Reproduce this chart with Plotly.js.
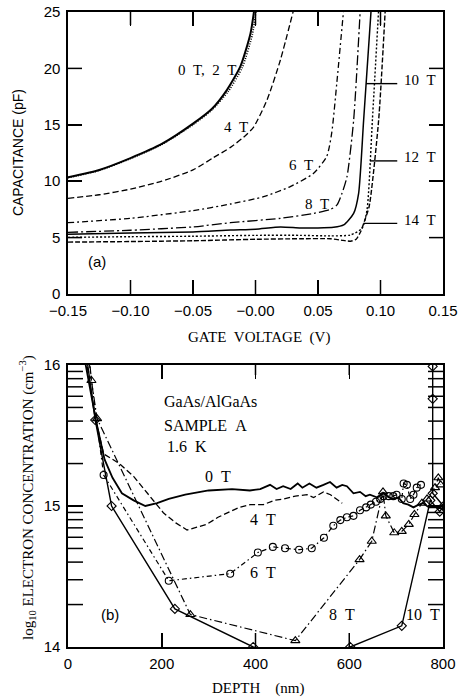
<!DOCTYPE html>
<html>
<head>
<meta charset="utf-8">
<script src="https://cdn.plot.ly/plotly-3.0.1.min.js"></script>
<style>html,body{margin:0;padding:0;background:#fff;}</style>
</head>
<body>
<div id="chart" style="width:458px;height:700px;"></div>
<script>
// ---------- Panel (a): capacitance vs gate voltage ----------
const v0T  = [-0.15, -0.125, -0.10, -0.075, -0.05, -0.035, -0.0228, -0.012, -0.004, -0.001];
const c0T  = [10.35, 11.0, 12.05, 13.3, 15.1, 16.4, 18.1, 20.2, 23.1, 25.2];
const v2T  = [-0.15, -0.125, -0.10, -0.075, -0.05, -0.035, -0.0215, -0.0105, -0.0025, 0.0005];
const c2T  = [10.3, 10.95, 12.0, 13.25, 15.0, 16.3, 18.0, 20.1, 23.0, 25.2];
const v4T  = [-0.15, -0.125, -0.10, -0.075, -0.05, -0.0335, -0.02, -0.0095, -0.0015, 0.0092, 0.0198, 0.0305];
const c4T  = [8.48, 8.8, 9.3, 10.0, 11.0, 12.1, 13.0, 13.9, 14.8, 17.2, 20.7, 25.2];
const v6T  = [-0.15, -0.10, -0.05, -0.02, 0.0065, 0.0278, 0.0465, 0.057, 0.061, 0.065, 0.0705];
const c6T  = [6.32, 6.71, 7.39, 7.98, 8.63, 9.52, 10.7, 12.2, 14.3, 18.65, 25.2];
const v8T  = [-0.15, -0.10, -0.05, -0.02, 0.02, 0.0465, 0.06, 0.0652, 0.0692, 0.0732, 0.0785, 0.0838];
const c8T  = [5.47, 5.65, 5.95, 6.32, 6.71, 7.15, 7.5, 7.9, 8.93, 10.4, 15.4, 25.2];
const v10T = [-0.15, -0.10, -0.05, -0.02, 0.0, 0.02, 0.036, 0.05, 0.0625, 0.0705, 0.0785, 0.0825, 0.0865, 0.0925];
const c10T = [5.29, 5.4, 5.5, 5.67, 5.75, 5.95, 5.85, 5.85, 5.91, 6.12, 7.15, 8.93, 15.4, 25.2];
const v12T = [-0.15, -0.10, -0.05, 0.0, 0.036, 0.06, 0.0758, 0.0852, 0.0892, 0.0935, 0.0985];
const c12T = [5.02, 5.08, 5.12, 5.2, 5.2, 5.15, 5.23, 5.82, 7.45, 15.4, 25.2];
const v14T = [-0.15, -0.10, -0.05, 0.0, 0.036, 0.06, 0.07, 0.076, 0.0805, 0.084, 0.087, 0.091, 0.0985, 0.1038];
const c14T = [4.6, 4.65, 4.72, 4.85, 4.9, 4.9, 4.75, 4.68, 4.85, 5.5, 6.4, 7.8, 15.4, 25.2];

const voltTicks = [-0.15, -0.10, -0.05, 0.0, 0.05, 0.10, 0.15];
const voltTickText = ['\u22120.15', '\u22120.10', '\u22120.05', '\u22120.00', '0.05', '0.10', '0.15'];
const capTicks = [0, 5, 10, 15, 20, 25];

// ---------- Panel (b): log10 electron concentration vs depth ----------
const d0T = [35, 60, 78, 95, 115, 140, 165, 190, 215, 250, 300, 350, 388, 410, 431, 445, 459, 475, 490, 500, 515, 530, 545, 559, 573, 585, 595, 609, 623, 635, 644, 660, 673, 685, 694, 705, 715, 726, 737, 748, 758, 770, 786, 800];
const n0T = [16.05, 15.6, 15.33, 15.2, 15.09, 15.04, 15.0, 15.02, 15.05, 15.08, 15.11, 15.12, 15.11, 15.12, 15.15, 15.12, 15.14, 15.12, 15.16, 15.13, 15.16, 15.13, 15.15, 15.17, 15.13, 15.15, 15.14, 15.09, 15.10, 15.07, 15.08, 15.06, 15.09, 15.06, 15.05, 15.06, 15.02, 15.01, 14.99, 15.01, 15.02, 14.99, 14.99, 14.98];
const d4T = [38, 60, 76, 110, 140, 169, 204, 230, 254, 275, 296, 320, 339, 365, 389, 417, 440, 460, 485, 510, 524, 545, 560, 572, 585];
const n4T = [16.05, 15.6, 15.37, 15.3, 15.21, 15.09, 14.95, 14.88, 14.83, 14.85, 14.87, 14.92, 14.95, 14.99, 15.01, 15.01, 15.04, 15.05, 15.07, 15.08, 15.06, 15.1, 15.08, 15.05, 15.02];
const d6T = [42, 76, 215, 346, 405, 437, 463, 493, 520, 546, 566, 581, 595, 609, 623, 636, 646, 657, 666, 673, 684, 694, 701, 712, 716, 723, 730, 737, 744, 753];
const n6T = [16.1, 15.22, 14.47, 14.52, 14.67, 14.71, 14.70, 14.69, 14.70, 14.775, 14.86, 14.90, 14.92, 14.93, 14.97, 14.99, 15.01, 15.03, 15.05, 15.07, 15.07, 15.07, 15.08, 15.05, 15.16, 15.15, 15.05, 15.08, 15.13, 15.15];
const d8T = [44, 50, 62, 261, 485, 622, 648, 672, 678, 696, 712, 727, 739, 755, 766, 783, 790, 795];
const n8T = [16.1, 15.89, 15.62, 14.23, 14.045, 14.62, 14.75, 15.10, 14.93, 14.81, 14.82, 14.87, 14.94, 15.02, 15.05, 15.13, 15.20, 15.15];
const d10T = [38, 58, 93, 228, 395, 500, 602, 712, 773, 793, 801, 778, 778, 778, 778];
const n10T = [16.1, 15.61, 15.0, 14.27, 14.0, 13.9, 14.0, 14.15, 15.04, 14.96, 15.0, 15.09, 15.76, 15.99, 16.1];

const depthTicks = [0, 200, 400, 600, 800];
const concTicks = [14, 15, 16];
const minorFactors = [2, 3, 4, 5, 6, 7, 8, 9];

// ---------- build ----------
const serif = 'Liberation Serif, Times New Roman, serif';
const sans = 'Liberation Sans, Arial, sans-serif';
const K = '#000';
const rangeV = [-0.15, 0.15], rangeC = [0, 25], rangeD = [0, 800], rangeN = [14, 16];

function ln(x, y, dash, width) {
  return {x: x, y: y, type: 'scatter', mode: 'lines', xaxis: 'x2', yaxis: 'y2',
    line: {color: K, width: width, dash: dash, shape: 'spline', smoothing: 0.6}, hoverinfo: 'skip'};
}
function lb(x, y, dash, width, symbol, size) {
  const t = {x: x, y: y, type: 'scatter', mode: symbol ? 'lines+markers' : 'lines', xaxis: 'x', yaxis: 'y',
    line: {color: K, width: width, dash: dash}, hoverinfo: 'skip'};
  if (symbol) t.marker = {symbol: symbol, size: size, color: K, line: {color: K, width: 1.1}};
  return t;
}

const traces = [
  ln(v0T, c0T, 'solid', 2.0),
  ln(v2T, c2T, '1px,1.5px', 1.6),
  ln(v4T, c4T, '6px,3px', 1.3),
  ln(v6T, c6T, '6px,3px,2px,3px', 1.3),
  ln(v8T, c8T, '10px,3px,2px,3px', 1.3),
  ln(v10T, c10T, 'solid', 1.5),
  ln(v12T, c12T, '2px,2px', 1.4),
  ln(v14T, c14T, '5px,2px', 1.4),
  lb(d0T, n0T, 'solid', 1.8, null),
  lb(d4T, n4T, '6px,3px', 1.3, null),
  lb(d6T, n6T, '5px,3px,1.5px,3px', 1.2, 'circle-open', 7),
  lb(d8T, n8T, '8px,3px,1.5px,3px', 1.2, 'triangle-up-open', 8),
  lb(d10T, n10T, 'solid', 1.4, 'diamond-open', 7)
];

// leader lines from curves to right-hand labels
function interpV(vs, cs, c) {
  for (let i = cs.length - 1; i > 0; i--) {
    if ((cs[i] - c) * (cs[i - 1] - c) <= 0) {
      const t = (c - cs[i - 1]) / (cs[i] - cs[i - 1]);
      return vs[i - 1] + t * (vs[i] - vs[i - 1]);
    }
  }
  return vs[vs.length - 1];
}
const leaderEnd = 0.1134;
const leaders = [
  {c: 18.65, v: v10T, cc: c10T, txt: '10\u2002T', ty: 19.0},
  {c: 11.8, v: v12T, cc: c12T, txt: '12\u2002T', ty: 12.17},
  {c: 6.26, v: v14T, cc: c14T, txt: '14\u2002T', ty: 6.56}
];
const shapes = leaders.map(o => ({type: 'line', xref: 'x2', yref: 'y2',
  x0: interpV(o.v, o.cc, o.c), x1: leaderEnd, y0: o.c, y1: o.c, line: {color: K, width: 1.4}}));

// inside tick marks on all four sides as thin filled rectangles at the axis tick values
const PW = 375, PH = 282; // plot-area size in px of each panel
function tickRects(xref, yref, xvals, yvals, xr, yr, lenB, lenT, lenY) {
  const sy = (yr[1] - yr[0]) / PH, sx = (xr[1] - xr[0]) / PW;
  const hw = 0.75; // half tick width in px
  xvals.forEach(v => {
    shapes.push({type: 'rect', xref: xref, yref: yref, x0: v - hw * sx, x1: v + hw * sx,
      y0: yr[0], y1: yr[0] + lenB * sy, fillcolor: K, line: {width: 0}, layer: 'above'});
    shapes.push({type: 'rect', xref: xref, yref: yref, x0: v - hw * sx, x1: v + hw * sx,
      y0: yr[1] - lenT * sy, y1: yr[1], fillcolor: K, line: {width: 0}, layer: 'above'});
  });
  yvals.forEach(v => {
    shapes.push({type: 'rect', xref: xref, yref: yref, x0: xr[0], x1: xr[0] + lenY * sx,
      y0: v - hw * sy, y1: v + hw * sy, fillcolor: K, line: {width: 0}, layer: 'above'});
    shapes.push({type: 'rect', xref: xref, yref: yref, x0: xr[1] - lenY * sx, x1: xr[1],
      y0: v - hw * sy, y1: v + hw * sy, fillcolor: K, line: {width: 0}, layer: 'above'});
  });
}
const minorVals = [];
concTicks.slice(0, -1).forEach(m => minorFactors.forEach(k => minorVals.push(m + Math.log10(k))));
tickRects('x2', 'y2', voltTicks.slice(1, -1), capTicks.slice(1, -1), rangeV, rangeC, 14, 13, 14);
tickRects('x', 'y', depthTicks.slice(1, -1), concTicks.slice(1, -1).concat(minorVals), rangeD, rangeN, 14, 10, 15);

const ann = [];
function addA(text, x, y, xref, yref, opts) {
  ann.push(Object.assign({text: text, x: x, y: y, xref: xref, yref: yref, showarrow: false,
    xanchor: 'center', yanchor: 'middle',
    font: {family: serif, size: 15, color: K}}, opts || {}));
}
leaders.forEach(o => addA(o.txt, 0.1318, o.ty, 'x2', 'y2'));
addA('0\u2002T,\u20022\u2002T', -0.0388, 19.9, 'x2', 'y2');
addA('4\u2002T', -0.016, 14.8, 'x2', 'y2');
addA('6\u2002T', 0.036, 11.4, 'x2', 'y2');
addA('8\u2002T', 0.049, 8.0, 'x2', 'y2');
addA('(a)', -0.127, 2.86, 'x2', 'y2', {font: {family: sans, size: 15, color: K}});

addA('GaAs/AlGaAs', 200, 15.74, 'x', 'y', {xanchor: 'left', font: {family: serif, size: 16, color: K}});
addA('SAMPLE\u2002A', 200, 15.57, 'x', 'y', {xanchor: 'left', font: {family: serif, size: 16, color: K}});
addA('1.6\u2002K', 207, 15.42, 'x', 'y', {xanchor: 'left', font: {family: serif, size: 16, color: K}});
addA('0\u2002T', 321, 15.21, 'x', 'y', {font: {family: serif, size: 16, color: K}});
addA('4\u2002T', 417, 14.906, 'x', 'y', {font: {family: serif, size: 16, color: K}});
addA('6\u2002T', 417, 14.53, 'x', 'y', {font: {family: serif, size: 16, color: K}});
addA('8\u2002T', 584, 14.234, 'x', 'y', {font: {family: serif, size: 16, color: K}});
addA('10\u2002T', 757, 14.234, 'x', 'y', {font: {family: serif, size: 16, color: K}});
addA('(b)', 90, 14.234, 'x', 'y', {font: {family: sans, size: 15, color: K}});

// axis titles
addA('GATE\u2002VOLTAGE\u2002(V)', 0.509, 0.488, 'paper', 'paper');
addA('DEPTH\u2003(nm)', 0.509, -0.066, 'paper', 'paper');
addA('CAPACITANCE (pF)', -0.133, 0.778, 'paper', 'paper', {textangle: -90, font: {family: sans, size: 14, color: K}});
addA('log<sub>10</sub> ELECTRON CONCENTRATION (cm<sup>\u22123</sup>)', -0.109, 0.235, 'paper', 'paper', {textangle: -90});

const axBase = {ticks: 'inside', ticklen: 14, tickwidth: 1.5, tickcolor: K, mirror: 'ticks', showline: true,
  linecolor: K, linewidth: 1.6, showgrid: false, zeroline: false, tickfont: {family: sans, size: 15, color: K}};

const layout = {
  width: 458, height: 700,
  margin: {l: 68, r: 15, t: 12, b: 53},
  paper_bgcolor: '#fff', plot_bgcolor: '#fff', showlegend: false,
  font: {family: sans, size: 15, color: K},
  xaxis: Object.assign({}, axBase, {domain: [0, 1], anchor: 'y', range: rangeD, tickmode: 'array',
    tickvals: depthTicks, ticklabelstandoff: 2}),
  yaxis: Object.assign({}, axBase, {domain: [0, 0.4441], anchor: 'x', range: rangeN, tickmode: 'array',
    tickvals: concTicks, ticklen: 15, ticklabelstandoff: 3}),
  xaxis2: Object.assign({}, axBase, {domain: [0, 1], anchor: 'y2', range: rangeV, tickmode: 'array',
    tickvals: voltTicks, ticktext: voltTickText, ticklabelstandoff: 2}),
  yaxis2: Object.assign({}, axBase, {domain: [0.5559, 1], anchor: 'x2', range: rangeC, tickmode: 'array',
    tickvals: capTicks, ticklabelstandoff: 3}),
  shapes: shapes,
  annotations: ann
};

Plotly.newPlot('chart', traces, layout, {staticPlot: true, displayModeBar: false});
</script>
</body>
</html>
